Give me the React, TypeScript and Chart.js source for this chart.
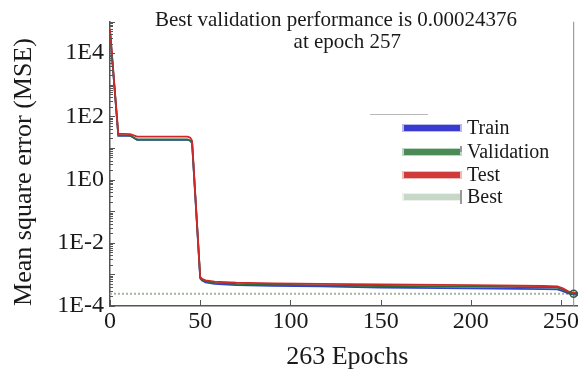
import { useEffect, useRef } from 'react';
import { Chart, registerables } from 'chart.js';

Chart.register(...registerables);

// ---- data ----
const epochs = [0, 4.6, 8, 11, 12, 15, 25, 35, 43, 44.5, 45.5, 50, 51, 53, 58, 70, 90, 117, 150, 200, 240, 248, 251, 254, 257, 260, 263];
const trainMse = [5.0e4, 24, 24, 24, 23, 18, 18, 18, 18, 17, 14, 7.5e-4, 6.4e-4, 5.6e-4, 5.0e-4, 4.6e-4, 4.35e-4, 4.2e-4, 3.8e-4, 3.6e-4, 3.4e-4, 3.35e-4, 2.95e-4, 2.5e-4, 2.3e-4, 2.25e-4, 2.2e-4];
const validationMse = [4.8e4, 25, 25, 24.5, 23, 18.5, 18.5, 18.5, 18.5, 17, 14.5, 8.0e-4, 6.8e-4, 6.0e-4, 5.4e-4, 5.0e-4, 4.7e-4, 4.5e-4, 4.3e-4, 4.1e-4, 3.9e-4, 3.8e-4, 3.3e-4, 2.7e-4, 2.4376e-4, 2.5e-4, 2.55e-4];
const testMse = [5.5e4, 28, 28, 27.5, 26.5, 22.7, 22.7, 22.7, 22.7, 21, 17, 8.4e-4, 7.2e-4, 6.5e-4, 5.9e-4, 5.5e-4, 5.2e-4, 5.0e-4, 4.8e-4, 4.6e-4, 4.3e-4, 4.2e-4, 3.6e-4, 2.9e-4, 2.6e-4, 2.6e-4, 2.6e-4];
const bestEpoch = 257;
const bestPerformance = 0.00024376;
const totalEpochs = 263;
const xTickValues = [0, 50, 100, 150, 200, 250];
const yTickValues = [1e-4, 1e-2, 1e0, 1e2, 1e4];
const yTickLabels = ['1E-4', '1E-2', '1E0', '1E2', '1E4'];
const yMin = 1e-4;
const yMax = 1e5;
const titleLines = [`Best validation performance is ${bestPerformance.toFixed(8)}`, `at epoch ${bestEpoch}`];
const xAxisTitle = `${totalEpochs} Epochs`;
const yAxisTitle = 'Mean square error (MSE)';
const legendLabels = ['Train', 'Validation', 'Test', 'Best'];

const FONT = "'Liberation Serif', 'Times New Roman', 'DejaVu Serif', serif";
const COLORS = {
  train: '#3040d0',
  validation: '#2e6b3a',
  test: '#d02828',
  best: '#a3b3a3',
};
const LEGEND_COLORS = ['#3a3ad0', '#4a8a55', '#d03a3a', '#c8d8c8'];

const decorPlugin = {
  id: 'decor',
  afterDraw(chart: any) {
    const { ctx, chartArea, scales } = chart;
    const xs = scales.x;
    const ys = scales.y;
    ctx.save();
    // inward tick marks on y axis (major + minor)
    ctx.strokeStyle = '#555';
    ctx.lineWidth = 1;
    for (let e = -4; e <= 5; e++) {
      for (let m = 1; m < 10; m++) {
        const v = m * Math.pow(10, e);
        if (v > yMax * 1.0001) break;
        const py = Math.round(ys.getPixelForValue(v)) + 0.5;
        const len = m === 1 ? 5 : 3;
        ctx.beginPath();
        ctx.moveTo(chartArea.left, py);
        ctx.lineTo(chartArea.left + len, py);
        ctx.stroke();
      }
    }
    // inward tick marks on x axis
    for (const t of xTickValues) {
      const px = Math.round(xs.getPixelForValue(t)) + 0.5;
      ctx.beginPath();
      ctx.moveTo(px, chartArea.bottom);
      ctx.lineTo(px, chartArea.bottom - 6);
      ctx.stroke();
    }

    ctx.fillStyle = '#1a1a1a';
    // title
    ctx.font = `21px ${FONT}`;
    ctx.textAlign = 'center';
    ctx.textBaseline = 'alphabetic';
    ctx.fillText(titleLines[0], 336, 26);
    ctx.fillText(titleLines[1], (chartArea.left + chartArea.right) / 2, 48);

    // x axis title
    ctx.font = `26px ${FONT}`;
    ctx.fillText(xAxisTitle, (chartArea.left + chartArea.right) / 2, 364);

    // y axis title
    ctx.save();
    ctx.translate(30.5, 172);
    ctx.rotate(-Math.PI / 2);
    ctx.fillText(yAxisTitle, 0, 0);
    ctx.restore();

    // legend
    const legendY = [128, 152, 175, 197];
    ctx.strokeStyle = '#b8b8b8';
    ctx.lineWidth = 1;
    ctx.beginPath();
    ctx.moveTo(370, 114.5);
    ctx.lineTo(428, 114.5);
    ctx.stroke();
    ctx.font = `20px ${FONT}`;
    ctx.textAlign = 'left';
    ctx.textBaseline = 'middle';
    legendLabels.forEach((label, i) => {
      const y = legendY[i];
      ctx.globalAlpha = 0.35;
      ctx.fillStyle = LEGEND_COLORS[i];
      ctx.fillRect(402, y - 4, 60, 8);
      ctx.globalAlpha = 1;
      ctx.fillRect(404, y - 3, 56, 6);
      ctx.fillStyle = '#1a1a1a';
      ctx.fillText(label, 467, y + 1);
    });
    ctx.fillStyle = '#999';
    ctx.fillRect(460, legendY[3] - 7, 2, 14);
    ctx.fillRect(460, legendY[1] - 6, 2, 6);
    ctx.restore();
  },
};

export default function App() {
  const canvasRef = useRef<HTMLCanvasElement | null>(null);

  useEffect(() => {
    document.body.style.margin = '0';
    const canvas = canvasRef.current;
    if (!canvas) return;
    const toPoints = (vals: number[]) => epochs.map((e, i) => ({ x: e, y: vals[i] }));
    const tickFont = { family: FONT, size: 24, lineHeight: 1 };
    const chart = new Chart(canvas, {
      type: 'line',
      data: {
        datasets: [
          { label: 'Train', order: 3, data: toPoints(trainMse), borderColor: COLORS.train, borderWidth: 1.8, pointRadius: 0, tension: 0 },
          { label: 'Validation', order: 2, data: toPoints(validationMse), borderColor: COLORS.validation, borderWidth: 1.8, pointRadius: 0, tension: 0 },
          { label: 'Test', order: 1, data: toPoints(testMse), borderColor: COLORS.test, borderWidth: 1.8, pointRadius: 0, tension: 0 },
          {
            label: 'Best', order: 4,
            data: [{ x: 0, y: bestPerformance }, { x: totalEpochs, y: bestPerformance }],
            borderColor: COLORS.best, borderWidth: 2, borderDash: [2, 2], pointRadius: 0,
          },
          {
            label: 'Best epoch', order: 5,
            data: [{ x: bestEpoch, y: yMin }, { x: bestEpoch, y: yMax }],
            borderColor: '#8c8c8c', borderWidth: 1, pointRadius: 0,
          },
          {
            label: 'Best point', order: 0,
            data: [{ x: bestEpoch, y: bestPerformance }],
            showLine: false, pointRadius: 3.5, pointBorderWidth: 1.5,
            pointBorderColor: '#345a40', pointBackgroundColor: 'rgba(0,0,0,0)',
          },
        ],
      } as any,
      options: {
        responsive: false,
        animation: false,
        layout: { padding: { left: 0, right: 15.5, top: 21.5, bottom: 0 } },
        plugins: {
          legend: { display: false },
          title: { display: false },
          tooltip: { enabled: false },
        },
        scales: {
          x: {
            type: 'linear',
            min: 0,
            max: totalEpochs,
            afterBuildTicks: (s: any) => { s.ticks = xTickValues.map((v) => ({ value: v })); },
            afterFit: (s: any) => { s.height = 68; },
            grid: { drawOnChartArea: false, drawTicks: false },
            border: { color: '#555', width: 1.5 },
            ticks: { font: tickFont, color: '#1a1a1a', padding: 3.5, maxRotation: 0, autoSkip: false },
          },
          y: {
            type: 'logarithmic',
            min: yMin,
            max: yMax,
            afterBuildTicks: (s: any) => { s.ticks = yTickValues.map((v) => ({ value: v })); },
            afterFit: (s: any) => { s.width = 110; },
            grid: { drawOnChartArea: false, drawTicks: false },
            border: { color: '#555', width: 1.5 },
            ticks: {
              font: tickFont,
              color: '#1a1a1a',
              padding: 6,
              autoSkip: false,
              callback: (v: any) => {
                const i = yTickValues.findIndex((t) => Math.abs(Math.log10(t) - Math.log10(Number(v))) < 1e-6);
                return i >= 0 ? yTickLabels[i] : '';
              },
            },
          },
        },
      } as any,
      plugins: [decorPlugin],
    });
    return () => chart.destroy();
  }, []);

  return (
    <div style={{ width: 578, height: 374, overflow: 'hidden', background: '#fff' }}>
      <canvas ref={canvasRef} width={600} height={374} style={{ display: 'block' }} />
    </div>
  );
}
